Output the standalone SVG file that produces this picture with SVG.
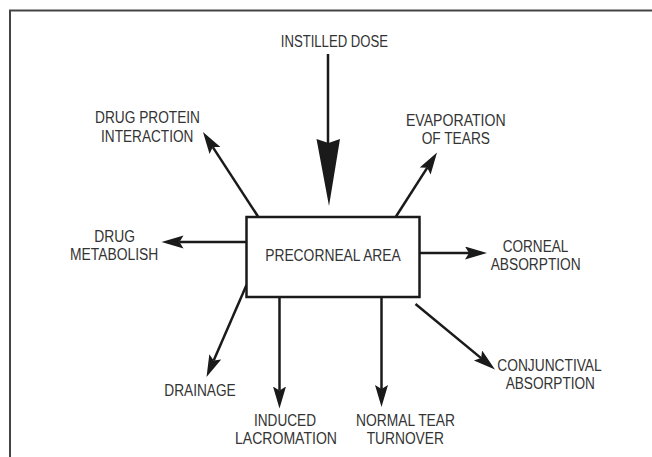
<svg xmlns="http://www.w3.org/2000/svg" width="652" height="457" viewBox="0 0 652 457">
<style>
text{font-family:"Liberation Sans Narrow","Liberation Sans",Arial,sans-serif;font-size:16px;fill:#333;text-anchor:middle}
.c{stroke:#1a1a1a;stroke-width:2.5;fill:none}
.frame{stroke:#444;stroke-width:2;fill:none}
</style>
<defs>
<marker id="ah" markerUnits="userSpaceOnUse" markerWidth="24" markerHeight="15" refX="4" refY="6.5" orient="auto">
<path d="M0,0 L22,6.5 L0,13 L4,6.5 z" fill="#1a1a1a"/>
</marker>
</defs>
<rect width="652" height="457" fill="#fff"/>
<path class="frame" d="M10,457 V10.5 H652"/>
<g id="connectors">
<line class="c" x1="328" y1="54" x2="328" y2="143" stroke-width="4"/>
<polygon points="316.5,139 328.5,143 340,139 329,206" fill="#1a1a1a"/>
<line class="c" x1="258" y1="216.5" x2="212.8" y2="147.1" marker-end="url(#ah)"/>
<line class="c" x1="396" y1="216.5" x2="427.3" y2="167.7" marker-end="url(#ah)"/>
<line class="c" x1="420" y1="253" x2="469" y2="253" marker-end="url(#ah)"/>
<line class="c" x1="246" y1="242" x2="179.5" y2="242" marker-end="url(#ah)"/>
<line class="c" x1="246.5" y1="285" x2="213.7" y2="360.5" marker-end="url(#ah)"/>
<line class="c" x1="279.5" y1="297" x2="279.5" y2="390.5" marker-end="url(#ah)"/>
<line class="c" x1="381.5" y1="297" x2="381.5" y2="389" marker-end="url(#ah)"/>
<line class="c" x1="415.5" y1="304" x2="481.1" y2="358.1" marker-end="url(#ah)"/>
</g>
<g id="precorneal">
<rect x="246.5" y="217" width="173" height="80" fill="#fff" stroke="#1a1a1a" stroke-width="2.5"/>
<text x="333" y="260.7" textLength="135.7" lengthAdjust="spacingAndGlyphs">PRECORNEAL AREA</text>
</g>
<g id="instilled">
<text x="334.4" y="46.7" textLength="107.3" lengthAdjust="spacingAndGlyphs">INSTILLED DOSE</text>
</g>
<g id="protein">
<text x="147.5" y="122.7" textLength="105" lengthAdjust="spacingAndGlyphs">DRUG PROTEIN</text>
<text x="147.2" y="141.7" textLength="92.3" lengthAdjust="spacingAndGlyphs">INTERACTION</text>
</g>
<g id="metabolism">
<text x="114.7" y="241.7" textLength="40.7" lengthAdjust="spacingAndGlyphs">DRUG</text>
<text x="114.2" y="260" textLength="88.3" lengthAdjust="spacingAndGlyphs">METABOLISH</text>
</g>
<g id="evaporation">
<text x="455.8" y="126" textLength="99.7" lengthAdjust="spacingAndGlyphs">EVAPORATION</text>
<text x="455.8" y="144.3" textLength="68.3" lengthAdjust="spacingAndGlyphs">OF TEARS</text>
</g>
<g id="corneal">
<text x="535.5" y="251.7" textLength="65.6" lengthAdjust="spacingAndGlyphs">CORNEAL</text>
<text x="535.7" y="270" textLength="90" lengthAdjust="spacingAndGlyphs">ABSORPTION</text>
</g>
<g id="drainage">
<text x="200" y="396" textLength="71.4" lengthAdjust="spacingAndGlyphs">DRAINAGE</text>
</g>
<g id="induced">
<text x="285" y="426" textLength="62" lengthAdjust="spacingAndGlyphs">INDUCED</text>
<text x="286" y="444.3" textLength="102" lengthAdjust="spacingAndGlyphs">LACROMATION</text>
</g>
<g id="normal">
<text x="405.5" y="426" textLength="99" lengthAdjust="spacingAndGlyphs">NORMAL TEAR</text>
<text x="405.3" y="444.3" textLength="77.3" lengthAdjust="spacingAndGlyphs">TURNOVER</text>
</g>
<g id="conjunctival">
<text x="549.5" y="370.7" textLength="104.4" lengthAdjust="spacingAndGlyphs">CONJUNCTIVAL</text>
<text x="550.3" y="389.3" textLength="89.3" lengthAdjust="spacingAndGlyphs">ABSORPTION</text>
</g>
</svg>
